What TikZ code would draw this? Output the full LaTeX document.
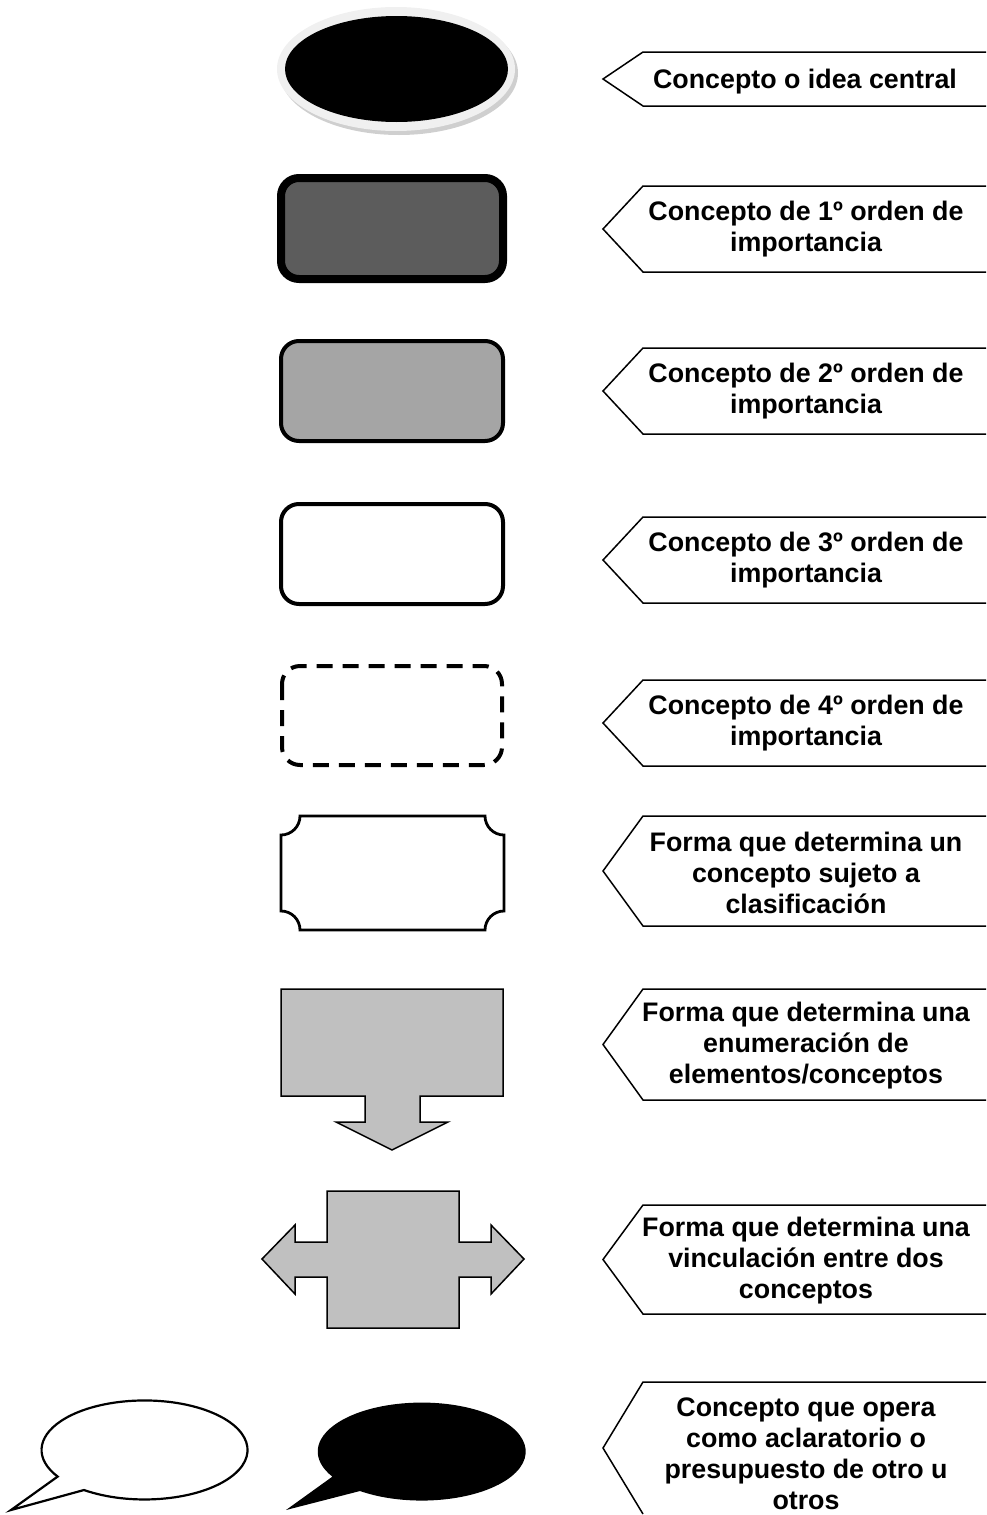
\documentclass[tikz,border=0pt]{standalone}
\usepackage{fontspec}
\setmainfont{Liberation Sans}
\definecolor{grisuno}{HTML}{5C5C5C}
\definecolor{grisdos}{HTML}{A5A5A5}
\definecolor{gristres}{HTML}{C0C0C0}
\definecolor{aro}{HTML}{F0F0F0}
\definecolor{sombra}{HTML}{CFCFCF}
\tikzset{
  etiq/.style={align=center,font=\fontsize{13.4pt}{15.5pt}\selectfont\bfseries},
  marco/.style={line width=0.75pt},
  caja/.style={line width=2pt,rounded corners=9pt},
}
\begin{document}
\begin{tikzpicture}[x=0.5pt,y=-0.5pt]
    \useasboundingbox (0,0) rectangle (986,1515);
    % idea central
    \fill[sombra] (399,73) ellipse [x radius=119, y radius=62];
    \fill[aro] (396,69) ellipse [x radius=119, y radius=62];
    \fill (396.5,69) ellipse [x radius=111.5, y radius=53];
    % cajas de orden
    \draw[caja,line width=4pt,fill=grisuno] (281,178) rectangle (503,279);
    \draw[caja,fill=grisdos] (281,341) rectangle (503,441);
    \draw[caja] (281,504) rectangle (503,604);
    \draw[caja,dash pattern=on 8pt off 5pt] (282,666) rectangle (502,765);
    % clasificacion
    \draw[line width=1.4pt] (300,816) -- (485,816) arc (180:90:19) -- (504,911)
        arc (270:180:19) -- (300,930) arc (0:-90:19) -- (281,835) arc (90:0:19) -- cycle;
    % enumeracion
    \draw[marco,fill=gristres] (281,989) -- (503,989) -- (503,1096) -- (420,1096) -- (420,1122)
        -- (448,1122) -- (392,1150) -- (336,1122) -- (365,1122) -- (365,1096) -- (281,1096) -- cycle;
    % vinculacion
    \draw[marco,fill=gristres] (327,1191) -- (459,1191) -- (459,1242) -- (491,1242) -- (491,1225)
        -- (524,1259) -- (491,1294) -- (491,1277) -- (459,1277) -- (459,1328) -- (327,1328)
        -- (327,1277) -- (295,1277) -- (295,1294) -- (262,1259) -- (295,1225) -- (295,1242)
        -- (327,1242) -- cycle;
    % globos
    \draw[line width=1.1pt] (11,1510) -- (84,1490)
        arc [start angle=126, end angle=-212.5, x radius=103, y radius=49.5] -- cycle;
    \fill (286,1510) -- (360,1491)
        arc [start angle=126.4, end angle=-210.8, x radius=104, y radius=49] -- cycle;
    % etiquetas
    \foreach \a/\b in {52/106,186/272,348/434,517/603,680/766,816/926,989/1100,1205/1314}
        \draw[marco] (986,\a) -- (643,\a) -- (603,{(\a+\b)/2}) -- (643,\b) -- (986,\b);
    \draw[marco] (986,1382) -- (643,1382) -- (603,1448) -- (643,1514);
    \node[etiq] (central) at (805,82) {Concepto o idea central};
    \node[etiq] (orden1) at (806,229) {Concepto de 1º orden de\\importancia};
    \node[etiq] (orden2) at (806,391) {Concepto de 2º orden de\\importancia};
    \node[etiq] (orden3) at (806,560) {Concepto de 3º orden de\\importancia};
    \node[etiq] (orden4) at (806,723) {Concepto de 4º orden de\\importancia};
    \node[etiq] (clasif) at (806,873) {Forma que determina un\\concepto sujeto a\\clasificación};
    \node[etiq] (enum) at (806,1046) {Forma que determina una\\enumeración de\\elementos/conceptos};
    \node[etiq] (vinc) at (806,1261) {Forma que determina una\\vinculación entre dos\\conceptos};
    \node[etiq] (aclar) at (806,1454) {Concepto que opera\\como aclaratorio o\\presupuesto de otro u\\otros};
\end{tikzpicture}
\end{document}
